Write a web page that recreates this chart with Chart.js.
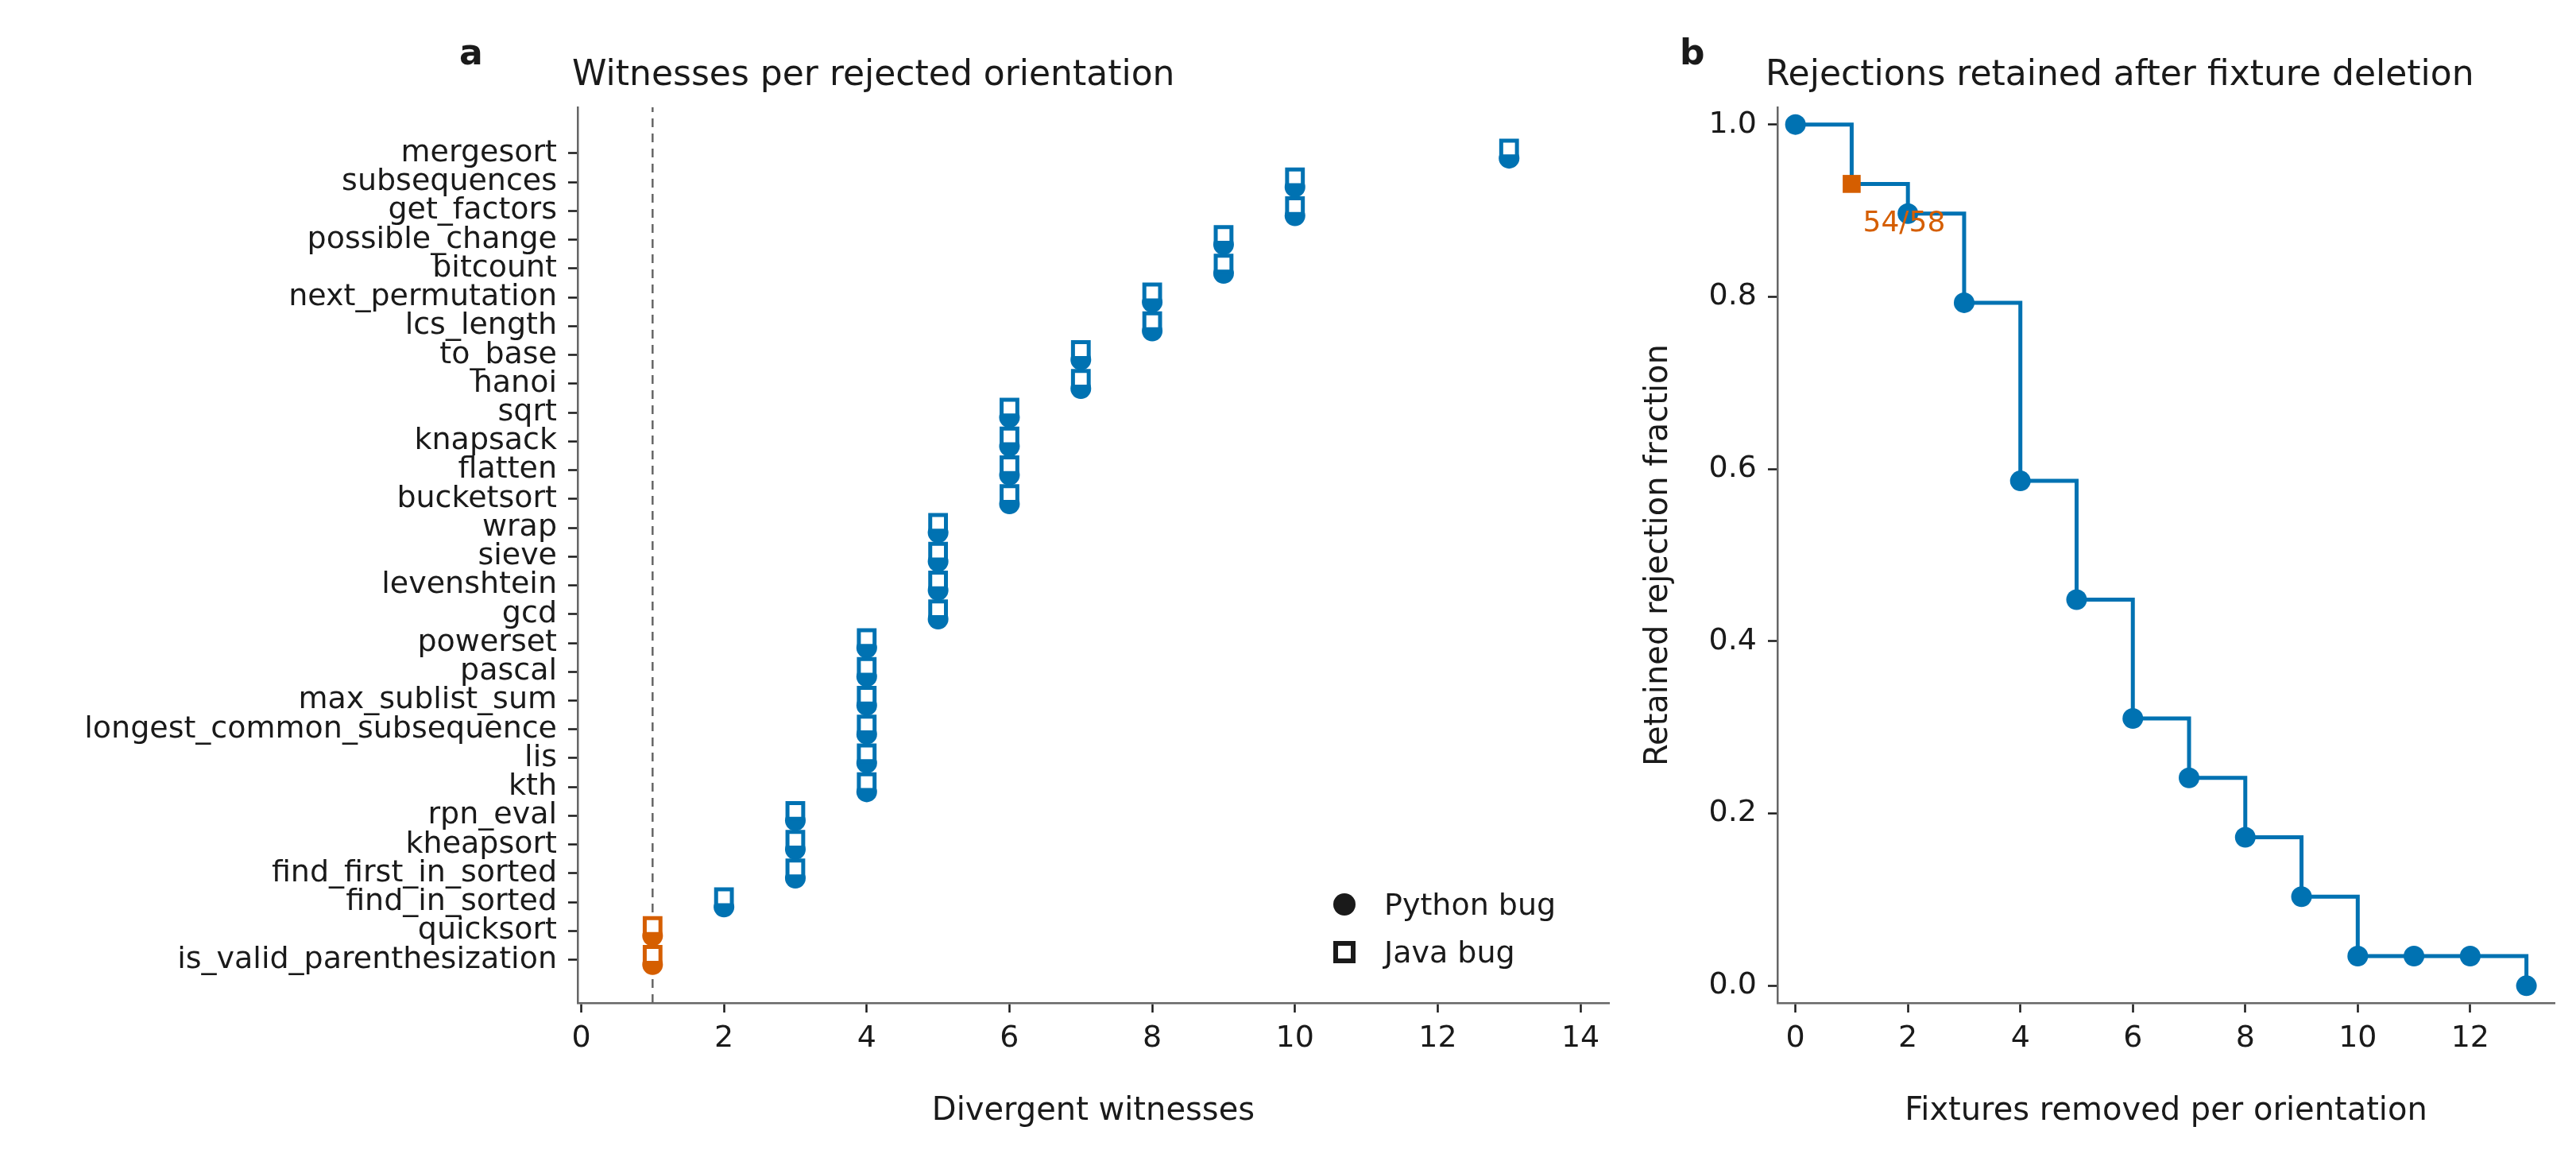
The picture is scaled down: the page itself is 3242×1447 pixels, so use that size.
<!DOCTYPE html>
<html><head><meta charset="utf-8">
<script src="https://cdn.jsdelivr.net/npm/chart.js@4"></script>
<style>
body{margin:0;background:#fff;width:3242px;height:1447px;position:relative;overflow:hidden;font-family:"DejaVu Sans",sans-serif;color:#1a1a1a}
canvas{position:absolute;top:0}
.t{position:absolute;font-size:44px;white-space:nowrap}
.lg{position:absolute;font-size:38px;display:flex;align-items:center;white-space:nowrap}
</style></head><body>
<canvas id="ca" style="left:0" width="2060" height="1447"></canvas>
<canvas id="cb" style="left:2060px" width="1182" height="1447"></canvas>
<div class="t" style="left:578px;top:40px;font-weight:bold">a</div>
<div class="t" style="left:720px;top:66px">Witnesses per rejected orientation</div>
<div class="t" style="left:2114px;top:40px;font-weight:bold">b</div>
<div class="t" style="left:2222px;top:66px">Rejections retained after fixture deletion</div>
<div class="lg" style="left:1678px;top:1116px"><span style="display:inline-block;width:28px;height:28px;border-radius:50%;background:#1a1a1a;margin-right:36px"></span>Python bug</div>
<div class="lg" style="left:1678px;top:1176px"><span style="display:inline-block;width:16px;height:16px;border:6px solid #1a1a1a;margin-right:36px"></span>Java bug</div>
<script>
const programs = ["is_valid_parenthesization","quicksort","find_in_sorted","find_first_in_sorted","kheapsort","rpn_eval","kth","lis","longest_common_subsequence","max_sublist_sum","pascal","powerset","gcd","levenshtein","sieve","wrap","bucketsort","flatten","knapsack","sqrt","hanoi","to_base","lcs_length","next_permutation","bitcount","possible_change","get_factors","subsequences","mergesort"];
const witnesses = [1,1,2,3,3,3,4,4,4,4,4,4,5,5,5,5,6,6,6,6,7,7,8,8,9,9,10,10,13];
const fixturesRemoved = [0,1,2,3,4,5,6,7,8,9,10,11,12,13];
const retainedFraction = [58/58,54/58,52/58,46/58,34/58,26/58,18/58,14/58,10/58,6/58,2/58,2/58,2/58,0];
const xTicksA = [0,2,4,6,8,10,12,14];
const xTicksB = [0,2,4,6,8,10,12];
const yTicksB = [0,0.2,0.4,0.6,0.8,1.0];

const BLUE="#0072B2", ORANGE="#D55E00", INK="#1a1a1a", AX="#666";
Chart.defaults.font.family='"DejaVu Sans", sans-serif';
Chart.defaults.font.size=38;
Chart.defaults.color=INK;
Chart.defaults.animation=false;
Chart.defaults.responsive=false;
const grid={display:true,drawOnChartArea:false,drawTicks:true,tickLength:12,tickColor:INK,tickWidth:2.5};

const colA = witnesses.map(w => w===1?ORANGE:BLUE);
const off = 0.17;
new Chart(document.getElementById('ca'),{
  type:'scatter',
  data:{datasets:[
    {type:'line',data:[{x:1,y:-1.5},{x:1,y:29.6}],borderColor:AX,borderWidth:2.5,borderDash:[11,8],pointRadius:0,order:3},
    {data:witnesses.map((w,i)=>({x:w,y:i-off})),pointStyle:'circle',pointRadius:13,backgroundColor:colA,borderColor:colA,borderWidth:0,order:2},
    {data:witnesses.map((w,i)=>({x:w,y:i+off})),pointStyle:'rect',pointRadius:14,backgroundColor:'#fff',borderColor:colA,borderWidth:5,order:1}
  ]},
  options:{
    layout:{padding:{top:135,right:35,bottom:20,left:0}},
    plugins:{legend:{display:false},tooltip:{enabled:false}},
    scales:{
      x:{type:'linear',min:-0.05,max:14.4,grid,
        border:{color:AX,width:2.5},
        afterBuildTicks:s=>{s.ticks=xTicksA.map(v=>({value:v}));},
        ticks:{padding:10,callback:v=>String(v)},
        title:{display:true,text:'Divergent witnesses',font:{size:40},padding:{top:14}},
        afterFit:s=>{s.height=165;}},
      y:{type:'linear',min:-1.5,max:29.6,grid,
        border:{color:AX,width:2.5},
        afterBuildTicks:s=>{s.ticks=programs.map((p,i)=>({value:i}));},
        ticks:{padding:14,autoSkip:false,callback:v=>programs[v]},
        afterFit:s=>{s.width=727;}}
    }
  }
});

const labelPlugin={id:'lbl',afterDatasetsDraw(c){
  const x=c.scales.x.getPixelForValue(1.2), y=c.scales.y.getPixelForValue(0.885);
  const ctx=c.ctx;ctx.save();ctx.fillStyle=ORANGE;ctx.font='36px "DejaVu Sans", sans-serif';
  ctx.textAlign='left';ctx.textBaseline='middle';ctx.fillText('54/58',x,y);ctx.restore();}};

const ptStyle=fixturesRemoved.map(v=>v===1?'rect':'circle');
const ptCol=fixturesRemoved.map(v=>v===1?ORANGE:BLUE);
const ptRad=fixturesRemoved.map(v=>v===1?16:13);
new Chart(document.getElementById('cb'),{
  type:'line',
  data:{datasets:[{data:fixturesRemoved.map((x,i)=>({x,y:retainedFraction[i]})),stepped:'before',
    borderColor:BLUE,borderWidth:5,pointStyle:ptStyle,pointRadius:ptRad,pointBackgroundColor:ptCol,pointBorderColor:ptCol,pointBorderWidth:0}]},
  options:{
    layout:{padding:{top:135,right:27,bottom:20,left:0}},
    plugins:{legend:{display:false},tooltip:{enabled:false}},
    scales:{
      x:{type:'linear',min:-0.32,max:13.5,grid,
        border:{color:AX,width:2.5},
        afterBuildTicks:s=>{s.ticks=xTicksB.map(v=>({value:v}));},
        ticks:{padding:10,callback:v=>String(v)},
        title:{display:true,text:'Fixtures removed per orientation',font:{size:40},padding:{top:14}},
        afterFit:s=>{s.height=165;}},
      y:{type:'linear',min:-0.02,max:1.02,grid,
        border:{color:AX,width:2.5},
        afterBuildTicks:s=>{s.ticks=yTicksB.map(v=>({value:v}));},
        ticks:{padding:14,callback:v=>v.toFixed(1)},
        title:{display:true,text:'Retained rejection fraction',font:{size:40},padding:{bottom:10}},
        afterFit:s=>{s.width=177;}}
    }
  },
  plugins:[labelPlugin]
});
</script></body></html>
